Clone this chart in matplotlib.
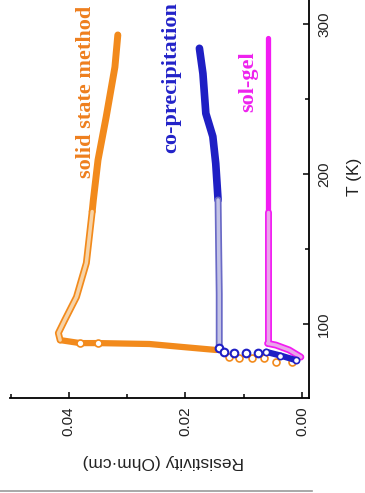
import matplotlib
matplotlib.use("Agg")
import matplotlib.pyplot as plt
from matplotlib.lines import Line2D
from matplotlib.ticker import MultipleLocator

# ---- data (T in K, resistivity in Ohm.cm) ----
ss_T_dense = [292.7, 271.3, 238.0, 209.3, 182.7, 175.0]
ss_R_dense = [0.0316, 0.0321, 0.0336, 0.0350, 0.0358, 0.0360]
ss_T_light = [175.0, 140.7, 118.0, 102.7, 94.0, 89.3]
ss_R_light = [0.0360, 0.0370, 0.0387, 0.0407, 0.0418, 0.0415]
ss_T_drop = [89.3, 87.3, 87.3, 86.7, 84.7, 82.7]
ss_R_drop = [0.0415, 0.0381, 0.0350, 0.0262, 0.0205, 0.0147]
ss_T_tail = [78.0, 77.3, 77.3, 77.3, 74.7, 74.7]
ss_R_tail = [0.0125, 0.0108, 0.0085, 0.0065, 0.0044, 0.0017]

cp_T_dense = [283.8, 267.0, 240.4, 225.0, 207.0, 182.7]
cp_R_dense = [0.0176, 0.0170, 0.0165, 0.0153, 0.0148, 0.0144]
cp_T_light = [182.7, 150.0, 120.0, 86.0]
cp_R_light = [0.0144, 0.0143, 0.0142, 0.0142]
cp_T_tail = [84.0, 81.5, 80.9, 80.5, 80.5]
cp_R_tail = [0.0142, 0.0133, 0.0116, 0.0096, 0.0076]
cp_T_low = [81.5, 79.0, 76.0]
cp_R_low = [0.0062, 0.0037, 0.0011]

sg_T_dense = [290.4, 175.0]
sg_R_dense = [0.0059, 0.0059]
sg_T_light = [175.0, 87.1]
sg_R_light = [0.0059, 0.0059]
sg_T_low = [87.1, 86.0, 82.7, 78.0]
sg_R_low = [0.0059, 0.0045, 0.0022, 0.0002]

x_ticks = [0.00, 0.02, 0.04]
x_tick_labels = ["0.00", "0.02", "0.04"]
y_ticks = [100, 200, 300]
y_tick_labels = ["100", "200", "300"]

ORANGE = "#F28A1C"
ORANGE_L = "#F7D3A6"
BLUE = "#1F1FC4"
BLUE_E = "#6A6AC6"
BLUE_L = "#C4C4E6"
MAG = "#F21CF2"
MAG_L = "#E9A6E9"

W, H = 365, 493
fig = plt.figure(figsize=(W / 100, H / 100), dpi=100)
fig.patch.set_facecolor("white")
ax = fig.add_axes([10 / W, 1 - 398 / H, (309 - 10) / W, 398 / H])

ax.set_xlim(0.0501, -0.0012)
ax.set_ylim(50.7, 316)

def band(T, R, c, cl, lw, z):
    ax.plot(R, T, color=c, lw=lw, solid_capstyle="round", solid_joinstyle="round", zorder=z)
    if cl is not None:
        ax.plot(R, T, color=cl, lw=lw * 0.5, solid_capstyle="round",
                solid_joinstyle="round", zorder=z + 0.1)

# solid state
band(ss_T_dense, ss_R_dense, ORANGE, None, 5.0, 2)
band(ss_T_light, ss_R_light, ORANGE, ORANGE_L, 5.0, 2)
band(ss_T_drop, ss_R_drop, ORANGE, None, 4.5, 2)
ax.plot(ss_R_drop[1:3], ss_T_drop[1:3], "o", ms=5, mfc="white", mec=ORANGE, mew=1.2, lw=0, zorder=3)
ax.plot(ss_R_tail, ss_T_tail, "o", ms=5, mfc="white", mec=ORANGE, mew=1.2, lw=0, zorder=3)

# sol-gel
band(sg_T_dense, sg_R_dense, MAG, None, 3.8, 4)
band(sg_T_light, sg_R_light, MAG, MAG_L, 5.0, 4)
band(sg_T_low, sg_R_low, MAG, MAG_L, 5.0, 4)

# co-precipitation
band(cp_T_dense, cp_R_dense, BLUE, None, 5.5, 6)
band(cp_T_light, cp_R_light, BLUE_E, BLUE_L, 5.0, 6)
ax.plot(cp_R_tail, cp_T_tail, "o", ms=5.5, mfc="white", mec=BLUE, mew=1.5, lw=0, zorder=7)
band(cp_T_low, cp_R_low, BLUE, None, 4.5, 7)
ax.plot(cp_R_low, cp_T_low, "o", ms=4.5, mfc="white", mec=BLUE, mew=1.2, lw=0, zorder=8)

# axes styling
for s in ("left", "top"):
    ax.spines[s].set_visible(False)
for s in ("bottom", "right"):
    ax.spines[s].set_linewidth(1.3)
ax.yaxis.tick_right()
ax.set_xticks(x_ticks)
ax.set_xticklabels(x_tick_labels)
ax.set_yticks(y_ticks)
ax.set_yticklabels(y_tick_labels)
ax.xaxis.set_minor_locator(MultipleLocator(0.01))
ax.yaxis.set_minor_locator(MultipleLocator(50))
ax.tick_params(which="both", direction="in", width=1.1, top=False, left=False)
ax.tick_params(which="major", length=4.5)
ax.tick_params(which="minor", length=3)
ax.tick_params(axis="x", labelrotation=90, pad=6)
ax.tick_params(axis="y", labelrotation=90, pad=6)
for lab in ax.get_xticklabels() + ax.get_yticklabels():
    lab.set_fontfamily("Liberation Sans")
    lab.set_fontsize(11)
    lab.set_color("#222222")
for lab in ax.get_yticklabels():
    lab.set_verticalalignment("center")

fig.text(163 / W, 1 - 462 / H, "Resistivity (Ohm\u00b7cm)", rotation=180,
         ha="center", va="center", fontsize=12.5, family="Liberation Sans", color="#222222")
fig.text(354 / W, 1 - 177 / H, "T (K)", rotation=90,
         ha="center", va="center", fontsize=12.5, family="Liberation Sans", color="#222222")

fig.text(86 / W, 1 - 92 / H, "solid state method", rotation=90, ha="center", va="center",
         fontsize=16, fontweight="bold", family="Liberation Serif", color="#EE7F1E")
fig.text(171 / W, 1 - 78 / H, "co-precipitation", rotation=90, ha="center", va="center",
         fontsize=16, fontweight="bold", family="Liberation Serif", color="#2222C8")
fig.text(248 / W, 1 - 82 / H, "sol-gel", rotation=90, ha="center", va="center",
         fontsize=16, fontweight="bold", family="Liberation Serif", color="#EE22EE")

fig.add_artist(Line2D([0, 312 / W], [1 - 491 / H, 1 - 491 / H], color="#9A9A9A", lw=1.2))

fig.savefig("out.png", dpi=100, facecolor="white")
